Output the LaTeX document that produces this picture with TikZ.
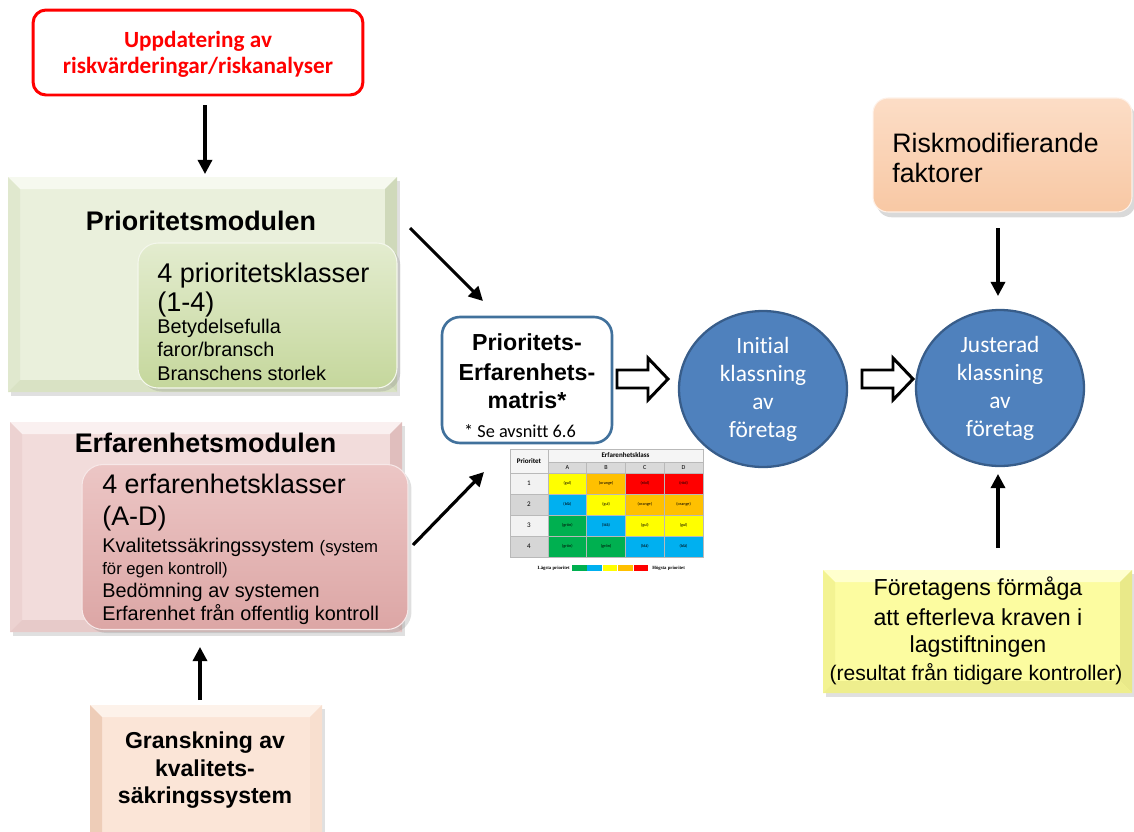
\documentclass[tikz,border=0pt]{standalone}
\usepackage{fontspec}
\setmainfont{Liberation Sans}
\newfontfamily\calfont[Ligatures=NoCommon]{Carlito}
\newfontfamily\serfont{Liberation Serif}
\usetikzlibrary{arrows.meta,shadows,shapes.geometric,calc}
\definecolor{redln}{HTML}{FF0000}
\definecolor{bluefill}{HTML}{4F81BD}
\definecolor{blueln}{HTML}{385D8A}
\definecolor{matln}{HTML}{41719C}
\definecolor{cgrn}{HTML}{00B050}
\definecolor{cblu}{HTML}{00B0F0}
\definecolor{cyel}{HTML}{FFFF00}
\definecolor{cora}{HTML}{FFC000}
\definecolor{cred}{HTML}{FF0000}
% green module
\definecolor{gbase}{HTML}{EAF0DC}
\definecolor{gtop}{HTML}{F6F9EF}
\definecolor{gleft}{HTML}{E0E8CE}
\definecolor{gright}{HTML}{CFD9BA}
\definecolor{gbot}{HTML}{D9E2C4}
\definecolor{gin1}{HTML}{E3ECCF}
\definecolor{gin2}{HTML}{C5D79C}
% pink module
\definecolor{pbase}{HTML}{F2DCDB}
\definecolor{ptop}{HTML}{FAF0F0}
\definecolor{pleft}{HTML}{ECD2D1}
\definecolor{pright}{HTML}{E0BEBD}
\definecolor{pbot}{HTML}{E7CAC9}
\definecolor{pin1}{HTML}{ECC6C5}
\definecolor{pin2}{HTML}{DCA6A5}
% granskning
\definecolor{obase}{HTML}{FBE5D7}
\definecolor{otop}{HTML}{FDF2EA}
\definecolor{oleft}{HTML}{EECDB8}
\definecolor{oright}{HTML}{F8DFCF}
\definecolor{obot}{HTML}{F3D8C6}
% risk
\definecolor{rin1}{HTML}{FCDDC6}
\definecolor{rin2}{HTML}{F8C8A4}
% yellow
\definecolor{ybase}{HTML}{FCFCA0}
\definecolor{ytop}{HTML}{FFFFCE}
\definecolor{yleft}{HTML}{F3F392}
\definecolor{yright}{HTML}{E9E989}
\definecolor{ybot}{HTML}{EEEE8D}
\newcommand{\bevelbox}[9]{%
  \fill[black,opacity=0.12] (#1+3,#2+4) rectangle (#3+3,#4+4);
  \fill[#5] (#1,#2) rectangle (#3,#4);
  \fill[#6] (#1,#2) -- (#3,#2) -- (#3-12,#2+12) -- (#1+12,#2+12) -- cycle;
  \fill[#7] (#1,#2) -- (#1+12,#2+12) -- (#1+12,#4-12) -- (#1,#4) -- cycle;
  \fill[#8] (#3,#2) -- (#3,#4) -- (#3-12,#4-12) -- (#3-12,#2+12) -- cycle;
  \fill[#9] (#1,#4) -- (#3,#4) -- (#3-12,#4-12) -- (#1+12,#4-12) -- cycle;}
\tikzset{
  arr/.style={line width=1.8pt,-{Triangle[length=8pt,width=8pt]}},
  blockarr/.style={draw=black,line width=1.7pt,fill=white,line join=miter},
  lbl/.style={inner sep=0pt,anchor=base west},
  clbl/.style={inner sep=0pt,anchor=base},
  small/.style={font=\fontsize{11.3}{13}\selectfont},
  cell/.style={draw=gray!55,line width=0.3pt},
  tiny/.style={inner sep=0pt,font=\fontsize{2.4}{3}\calfont},
  circ/.style={ellipse,fill=bluefill,draw=blueln,line width=1.3pt,minimum width=3.36cm,minimum height=3.12cm,inner sep=0pt,
     text=white,align=center,font=\fontsize{13.3}{15.9}\calfont},
}
\begin{document}
\begin{tikzpicture}[x=0.02cm,y=-0.02cm]
\useasboundingbox (0,0) rectangle (1134,832);
\clip (0,0) rectangle (1134,832);

% ---------- red box ----------
\node[draw=redln,line width=1.7pt,rounded corners=0.26cm,minimum width=6.6cm,minimum height=1.7cm,inner sep=0pt] (upd) at (198,52.5) {};
\node[clbl,text=redln,font=\fontsize{13.2}{15.9}\calfont\bfseries] (upd1) at (198,47) {Uppdatering av};
\node[clbl,text=redln,font=\fontsize{13.2}{15.9}\calfont\bfseries] (upd2) at (198,73) {riskvärderingar/riskanalyser};

% ---------- Prioritetsmodulen ----------
\bevelbox{8}{177}{397}{392}{gbase}{gtop}{gleft}{gright}{gbot}
\node[inner sep=0pt,minimum width=7.78cm,minimum height=4.3cm] (prio) at (202.5,284.5) {};
\node[clbl,font=\fontsize{15.3}{18}\selectfont\bfseries] (priot) at (201,230) {Prioritetsmodulen};
\node[rounded corners=0.4cm,top color=gin1,bottom color=gin2,draw=white!60!gin1,line width=0.6pt,
      drop shadow={opacity=0.25,shadow xshift=2pt,shadow yshift=-2pt},minimum width=5.18cm,minimum height=2.9cm,inner sep=0pt] (prioin) at (267.5,315.5) {};
\node[lbl,font=\fontsize{15.4}{18}\selectfont] (p1) at (157,282) {4 prioritetsklasser};
\node[lbl,font=\fontsize{15.4}{18}\selectfont] (p2) at (157,311) {(1-4)};
\node[lbl,small] (p3) at (157,333) {Betydelsefulla};
\node[lbl,small] (p4) at (157,356) {faror/bransch};
\node[lbl,small] (p5) at (157,380) {Branschens storlek};

% ---------- Erfarenhetsmodulen ----------
\bevelbox{10}{422}{402}{632}{pbase}{ptop}{pleft}{pright}{pbot}
\node[inner sep=0pt,minimum width=7.84cm,minimum height=4.2cm] (erf) at (206,527) {};
\node[clbl,font=\fontsize{15.3}{18}\selectfont\bfseries] (erft) at (205.5,452) {Erfarenhetsmodulen};
\node[rounded corners=0.42cm,top color=pin1,bottom color=pin2,draw=white!60!pin1,line width=0.6pt,
      drop shadow={opacity=0.25,shadow xshift=2pt,shadow yshift=-2pt},minimum width=6.52cm,minimum height=3.3cm,inner sep=0pt] (erfin) at (245,547) {};
\node[lbl,font=\fontsize{15.3}{18}\selectfont] (e1) at (102,493) {4 erfarenhetsklasser};
\node[lbl,font=\fontsize{15.3}{18}\selectfont] (e2) at (102,525) {(A-D)};
\node[lbl,small] (e3) at (102,552) {Kvalitetssäkringssystem {\fontsize{9.5}{11}\selectfont(system}};
\node[lbl,font=\fontsize{9.5}{11}\selectfont] (e4) at (102,574) {för egen kontroll)};
\node[lbl,small] (e5) at (102,597) {Bedömning av systemen};
\node[lbl,small] (e6) at (102,620) {Erfarenhet från offentlig kontroll};

% ---------- Granskning ----------
\bevelbox{90}{705}{322}{850}{obase}{otop}{oleft}{oright}{obot}
\node[inner sep=0pt,minimum width=4.64cm,minimum height=2.54cm] (gran) at (206,768) {};
\node[clbl,font=\fontsize{13.1}{15.3}\selectfont\bfseries] (g1) at (205,748) {Granskning av};
\node[clbl,font=\fontsize{13.1}{15.3}\selectfont\bfseries] (g2) at (205,776) {kvalitets-};
\node[clbl,font=\fontsize{13.1}{15.3}\selectfont\bfseries] (g3) at (205,803) {säkringssystem};

% ---------- Matrix box ----------
\node[draw=matln,line width=1.5pt,rounded corners=0.36cm,fill=white,minimum width=3.4cm,minimum height=2.52cm,inner sep=0pt] (mat) at (527,380) {};
\node[clbl,font=\fontsize{13.2}{16}\selectfont\bfseries] (m1) at (527,350) {Prioritets-};
\node[clbl,font=\fontsize{13.2}{16}\selectfont\bfseries] (m2) at (527,380) {Erfarenhets-};
\node[clbl,font=\fontsize{13.2}{16}\selectfont\bfseries] (m3) at (527,408) {matris*};
\node[clbl,font=\fontsize{10.4}{12}\calfont] (m4) at (520,437) {* Se avsnitt 6.6};

% ---------- small table ----------
\draw[cell,fill=gray!8] (510,449) rectangle (548,473);
\draw[cell,fill=gray!8] (548,449) rectangle (703,462);
\node[inner sep=0pt,font=\fontsize{4}{5}\calfont\bfseries] (tp) at (529,461) {Prioritet};
\node[inner sep=0pt,font=\fontsize{4}{5}\calfont\bfseries] (te) at (625.5,455.5) {Erfarenhetsklass};
\foreach \c/\l in {1/A,2/B,3/C,4/D}{
  \draw[cell,fill=gray!30] ({548+(\c-1)*38.75},462) rectangle ({548+\c*38.75},473);
  \node[inner sep=0pt,font=\fontsize{3.5}{4}\calfont] (th\c) at ({548+(\c-0.5)*38.75},467.5) {\l};
}
\foreach \r/\f in {1/gray!10,2/gray!32,3/gray!10,4/gray!32}{
  \draw[cell,fill=\f] (510,{473+(\r-1)*21}) rectangle (548,{473+\r*21});
  \node[inner sep=0pt,font=\fontsize{4}{5}\calfont] (tr\r) at (529,{473+(\r-0.5)*21}) {\r};
}
\foreach \r/\c/\col/\t in {1/1/cyel/gul,1/2/cora/orange,1/3/cred/röd,1/4/cred/röd,
                           2/1/cblu/blå,2/2/cyel/gul,2/3/cora/orange,2/4/cora/orange,
                           3/1/cgrn/grön,3/2/cblu/blå,3/3/cyel/gul,3/4/cyel/gul,
                           4/1/cgrn/grön,4/2/cgrn/grön,4/3/cblu/blå,4/4/cblu/blå}{
  \draw[cell,fill=\col] ({548+(\c-1)*38.75},{473+(\r-1)*21}) rectangle ({548+\c*38.75},{473+\r*21});
  \node[tiny] (tc\r\c) at ({548+(\c-0.5)*38.75},{473+(\r-0.5)*21}) {(\t)};
}
\node[inner sep=0pt,anchor=east,font=\fontsize{2.7}{3}\serfont\bfseries] (leg1) at (570,568) {Lägsta prioritet};
\foreach \i/\col in {0/cgrn,1/cblu,2/cyel,3/cora,4/cred}{
  \fill[\col] ({572+\i*15.4},565) rectangle ({572+(\i+1)*15.4-0.8},571);
}
\node[inner sep=0pt,anchor=west,font=\fontsize{2.7}{3}\serfont\bfseries] (leg2) at (652,568) {Högsta prioritet};

% ---------- circles ----------
\node[circ] (init) at (763,389) {Initial\\klassning\\av\\företag};
\node[circ] (just) at (1000,388) {Justerad\\klassning\\av\\företag};

% ---------- block arrows ----------
\draw[blockarr] (617,370) -- (648,370) -- (648,358) -- (668,379) -- (648,400) -- (648,388) -- (617,388) -- cycle;
\draw[blockarr] (862,370) -- (893,370) -- (893,358) -- (913,379) -- (893,400) -- (893,388) -- (862,388) -- cycle;

% ---------- Riskmodifierande ----------
\node[rounded corners=0.3cm,top color=rin1,bottom color=rin2,draw=white!60!rin1,line width=0.6pt,
      drop shadow={opacity=0.3,shadow xshift=2pt,shadow yshift=-3pt},minimum width=5.18cm,minimum height=2.28cm,inner sep=0pt] (risk) at (1002.5,155) {};
\node[lbl,font=\fontsize{15.2}{17}\selectfont] (r1) at (892,152) {Riskmodifierande};
\node[lbl,font=\fontsize{15.2}{17}\selectfont] (r2) at (892,182) {faktorer};

% ---------- Företagens förmåga ----------
\bevelbox{823}{570}{1132}{693}{ybase}{ytop}{yleft}{yright}{ybot}
\node[inner sep=0pt,minimum width=6.18cm,minimum height=2.46cm] (ftg) at (977.5,631.5) {};
\node[clbl,font=\fontsize{13.2}{16}\selectfont] (f1) at (978,595) {Företagens förmåga};
\node[clbl,font=\fontsize{13.2}{16}\selectfont] (f2) at (978,625) {att efterleva kraven i};
\node[clbl,font=\fontsize{13.2}{16}\selectfont] (f3) at (978,652) {lagstiftningen};
\node[clbl,font=\fontsize{12}{14}\selectfont] (f4) at (976,680) {(resultat från tidigare kontroller)};

% ---------- arrows ----------
\coordinate (a1s) at (205,105);  \coordinate (a1e) at (205,174);
\coordinate (a2s) at (410,228);  \coordinate (a2e) at (483,301);
\coordinate (a3s) at (413,545);  \coordinate (a3e) at (484,472);
\coordinate (a4s) at (200,700);  \coordinate (a4e) at (200,647);
\coordinate (a5s) at (998,228);  \coordinate (a5e) at (998,296);
\coordinate (a6s) at (998,548);  \coordinate (a6e) at (998,474);
\draw[arr] (a1s) -- (a1e);
\draw[arr] (a2s) -- (a2e);
\draw[arr] (a3s) -- (a3e);
\draw[arr] (a4s) -- (a4e);
\draw[arr] (a5s) -- (a5e);
\draw[arr] (a6s) -- (a6e);
\end{tikzpicture}
\end{document}
